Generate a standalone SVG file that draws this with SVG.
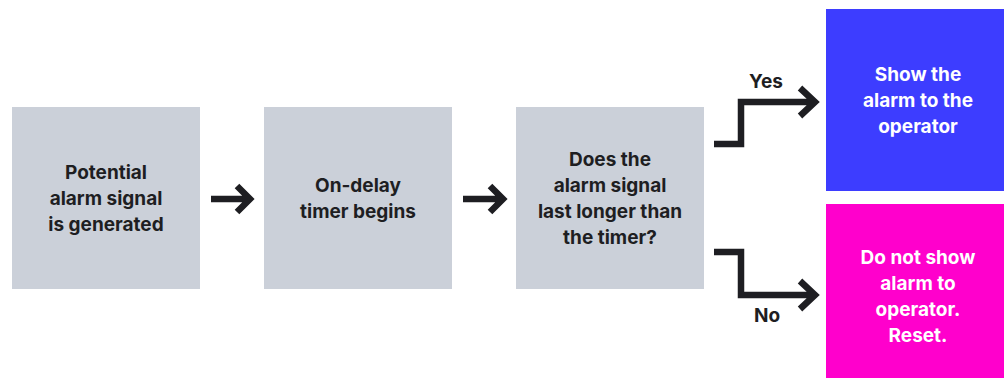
<svg xmlns="http://www.w3.org/2000/svg" width="1004" height="378" viewBox="0 0 1004 378">
<style>
.box{fill:#CBD0D9}
.t{font-family:Inter,"Liberation Sans",sans-serif;font-weight:700;font-size:19px;text-anchor:middle;fill:#1E1E22}
.w{fill:#FFFFFF}
.c{fill:none;stroke:#1E1E22;stroke-width:6.5}
</style>
<rect width="1004" height="378" fill="#FFFFFF"/>
<g id="n1"><rect class="box" x="12" y="107" width="188" height="182"/>
<text class="t" x="106" y="179">Potential</text><text class="t" x="106" y="205">alarm signal</text><text class="t" x="106" y="231">is generated</text></g>
<g id="n2"><rect class="box" x="264" y="107" width="188" height="182"/>
<text class="t" x="358" y="192">On-delay</text><text class="t" x="358" y="218">timer begins</text></g>
<g id="n3"><rect class="box" x="516" y="107" width="188" height="182"/>
<text class="t" x="610" y="166">Does the</text><text class="t" x="610" y="192">alarm signal</text><text class="t" x="610" y="218">last longer than</text><text class="t" x="610" y="244">the timer?</text></g>
<g id="n4"><rect x="826" y="9" width="178" height="182" fill="#3D3DFF"/>
<text class="t w" x="918" y="81">Show the</text><text class="t w" x="918" y="107">alarm to the</text><text class="t w" x="918" y="133">operator</text></g>
<g id="n5"><rect x="826" y="204" width="178" height="174" fill="#FF00CC"/>
<text class="t w" x="918" y="264">Do not show</text><text class="t w" x="918" y="290">alarm to</text><text class="t w" x="918" y="316">operator.</text><text class="t w" x="918" y="342">Reset.</text></g>
<g id="connectors">
<path class="c" d="M211 199H250M237 186L250 199L237 212"/>
<path class="c" d="M463 199H503M490 186L503 199L490 212"/>
<path class="c" d="M714 144H741V102H815M800 88L815 102L800 116"/>
<path class="c" d="M714 252H741V295H815M800 281L815 295L800 309"/>
<text class="t" x="766" y="88">Yes</text>
<text class="t" x="767" y="322">No</text>
</g>
</svg>
